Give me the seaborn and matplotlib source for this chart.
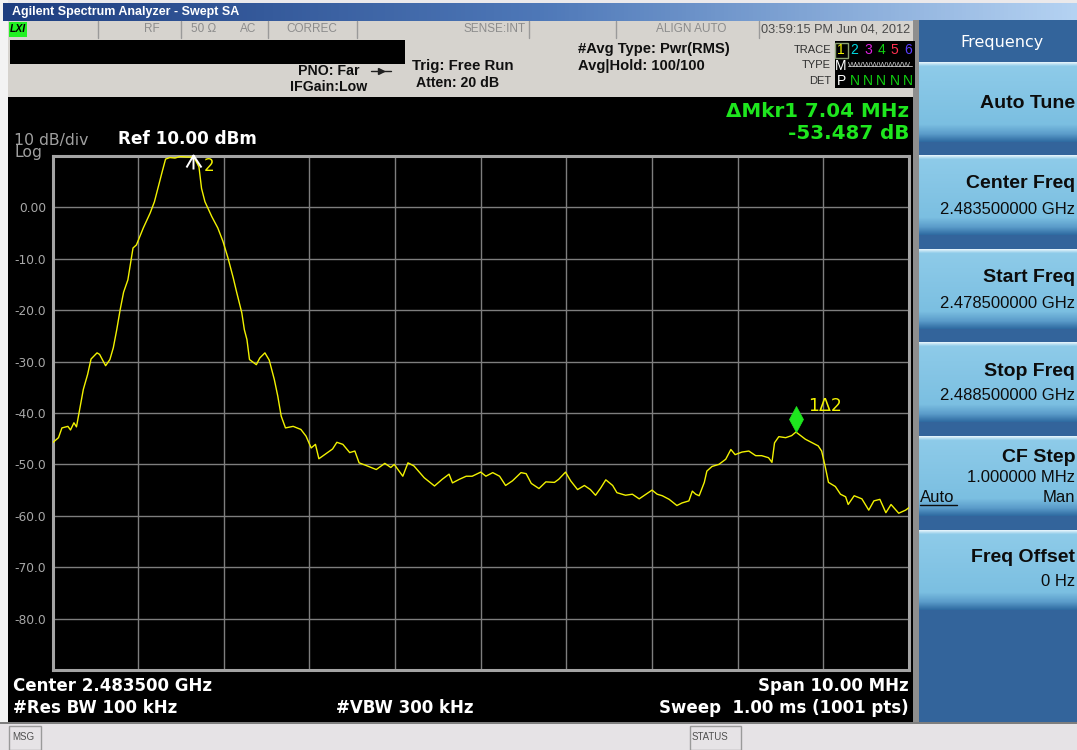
import numpy as np
import pandas as pd
import matplotlib
matplotlib.use("Agg")
import matplotlib.pyplot as plt
from matplotlib.patches import Rectangle
from matplotlib.path import Path
from matplotlib.colors import LinearSegmentedColormap
import seaborn as sns

# ---------------- data ----------------
freq_offset_mhz = [
    0.00, 0.07, 0.11, 0.18, 0.21, 0.25, 0.28, 0.32, 0.36, 0.41, 0.45, 0.52, 0.55, 0.62, 0.67,
    0.71, 0.75, 0.79, 0.83, 0.88, 0.94, 0.98, 1.06, 1.14, 1.19, 1.23, 1.28, 1.32, 1.37, 1.43,
    1.49, 1.56, 1.64, 1.66, 1.71, 1.74, 1.78, 1.86, 1.93, 1.99, 2.05, 2.11, 2.15, 2.21, 2.24,
    2.27, 2.30, 2.38, 2.42, 2.48, 2.53, 2.59, 2.63, 2.67, 2.72, 2.81, 2.90, 2.96, 3.02, 3.07,
    3.11, 3.21, 3.27, 3.32, 3.39, 3.47, 3.53, 3.58, 3.66, 3.78, 3.88, 3.95, 3.99, 4.09, 4.15,
    4.22, 4.34, 4.46, 4.55, 4.63, 4.67, 4.75, 4.83, 4.90, 5.00, 5.06, 5.14, 5.22, 5.29, 5.37,
    5.47, 5.53, 5.59, 5.68, 5.76, 5.86, 5.91, 5.99, 6.05, 6.13, 6.21, 6.28, 6.34, 6.40, 6.46,
    6.54, 6.59, 6.69, 6.77, 6.85, 6.93, 7.00, 7.06, 7.12, 7.20, 7.29, 7.35, 7.43, 7.47, 7.51,
    7.55, 7.61, 7.64, 7.70, 7.78, 7.86, 7.92, 7.97, 8.05, 8.13, 8.21, 8.28, 8.36, 8.40, 8.43,
    8.48, 8.56, 8.63, 8.68, 8.79, 8.87, 8.94, 8.98, 9.02, 9.06, 9.14, 9.20, 9.26, 9.29, 9.36,
    9.45, 9.53, 9.59, 9.66, 9.73, 9.79, 9.88, 9.96, 10.00,
]
level_dbm = [
    -45.8, -44.8, -42.9, -42.6, -43.3, -41.9, -42.7, -39.0, -35.4, -32.5, -29.5, -28.3, -28.6, -30.8, -29.6,
    -27.3, -23.8, -19.9, -16.5, -14.1, -7.9, -7.3, -4.0, -1.1, 1.1, 3.7, 6.9, 9.4, 9.7, 9.6,
    9.9, 9.8, 9.8, 9.5, 7.9, 3.7, 1.1, -1.8, -4.0, -6.6, -9.9, -13.7, -16.5, -20.5, -23.8,
    -25.7, -29.6, -30.6, -29.3, -28.3, -29.7, -33.5, -36.7, -40.6, -42.9, -42.6, -43.2, -44.5, -46.8, -46.1,
    -48.9, -47.7, -47.0, -45.7, -46.1, -47.7, -47.4, -49.7, -50.2, -51.0, -49.8, -50.6, -50.0, -52.3, -49.7,
    -50.3, -52.6, -54.2, -52.9, -51.9, -53.6, -52.9, -52.3, -52.3, -51.5, -52.3, -51.6, -52.3, -54.1, -53.2,
    -51.6, -51.8, -53.7, -54.7, -53.4, -53.5, -52.9, -51.5, -53.2, -54.9, -54.1, -54.9, -56.0, -54.6, -53.0,
    -54.1, -55.5, -56.0, -55.8, -56.7, -55.8, -55.0, -55.8, -56.1, -56.8, -58.0, -57.5, -57.1, -55.2, -55.8,
    -56.1, -53.5, -51.3, -50.4, -50.0, -49.0, -47.1, -48.1, -47.6, -47.4, -48.3, -48.3, -48.7, -49.6, -45.8,
    -44.6, -44.8, -44.4, -43.7, -45.1, -45.8, -46.4, -47.4, -50.3, -53.5, -54.3, -55.8, -56.3, -57.8, -56.1,
    -56.7, -58.9, -57.1, -56.8, -59.4, -57.8, -59.5, -58.9, -58.4,
]
span_mhz = 10.0
ref_level_dbm = 10.0
db_per_div = 10.0
marker_ids = ["1", "2"]
marker_freq_mhz = [8.68, 1.64]
marker_level_dbm = [-43.69, 9.80]
y_tick_values = [10, 0, -10, -20, -30, -40, -50, -60, -70, -80, -90]
y_tick_labels = ["", "0.00", "-10.0", "-20.0", "-30.0", "-40.0", "-50.0", "-60.0", "-70.0", "-80.0", ""]
x_div_values = [0, 1, 2, 3, 4, 5, 6, 7, 8, 9, 10]
softkey_titles = ["Auto Tune", "Center Freq", "Start Freq", "Stop Freq", "CF Step", "Freq Offset"]
softkey_values = ["", "2.483500000 GHz", "2.478500000 GHz", "2.488500000 GHz", "1.000000 MHz", "0 Hz"]
trace_numbers = ["1", "2", "3", "4", "5", "6"]
trace_number_colors = ["#f0f000", "#00d8e0", "#e020e0", "#10d010", "#ff3050", "#5a3cff"]

# ---------------- style ----------------
sns.set_theme(style="dark")
plt.rcParams["font.family"] = ["DejaVu Sans"]

W, H = 1077, 750
fig = plt.figure(figsize=(W / 100, H / 100), dpi=100, facecolor="#ebe9eb")
bg = fig.add_axes([0, 0, 1, 1], zorder=0)
bg.set_axis_off()

ARIAL = "Liberation Sans"
DV = "DejaVu Sans"


def rect(x0, y0, x1, y1, fc, ec="none", lw=0, z=1):
    bg.add_patch(Rectangle((x0, y0), x1 - x0, y1 - y0, facecolor=fc, edgecolor=ec, linewidth=lw, zorder=z))


def grad(x0, y0, x1, y1, stops, horizontal=False, z=1):
    cmap = LinearSegmentedColormap.from_list("g", stops)
    arr = np.linspace(0, 1, 256)
    arr = arr.reshape(1, -1) if horizontal else arr.reshape(-1, 1)
    bg.imshow(arr, cmap=cmap, extent=[x0, x1, y1, y0], aspect="auto", interpolation="bilinear", zorder=z)


def txt(x, y, s, size, color, weight="normal", ha="left", family=DV, z=5, **kw):
    bg.text(x, y, s, fontsize=size, color=color, fontweight=weight, ha=ha, va="center",
            family=family, zorder=z, **kw)


# outer frame strip
rect(0, 0, 8, H, "#f3f3f3")
# title bar
grad(3, 3, W, 21, ["#1e3e80", "#4e78b8", "#b4d2f2"], horizontal=True)
txt(12, 12.5, "Agilent Spectrum Analyzer - Swept SA", 9, "white", weight="bold", family=ARIAL)

# status row
rect(8, 21, 918, 38, "#d6d3ce")
for sx in [98, 181, 268, 357, 529, 616, 759]:
    bg.plot([sx, sx], [21, 38], color="#9a9a9a", lw=1, zorder=2)
rect(9, 22, 27, 37, "#22f022", z=2)
txt(10, 29.5, "LXI", 7.5, "black", weight="bold", family=ARIAL, style="italic")
txt(152, 29.5, "RF", 8.5, "#8c8c8c", ha="center", family=ARIAL)
txt(191, 29.5, "50 Ω", 8.5, "#8c8c8c", family=ARIAL)
txt(240, 29.5, "AC", 8.5, "#8c8c8c", family=ARIAL)
txt(286, 29.5, "CORREC", 8.5, "#8c8c8c", family=ARIAL)
txt(526, 29.5, "SENSE:INT", 8.5, "#8c8c8c", ha="right", family=ARIAL)
txt(691, 29.5, "ALIGN AUTO", 8.5, "#8c8c8c", ha="center", family=ARIAL)
txt(761, 29.5, "03:59:15 PM Jun 04, 2012", 9.2, "#4a4a4a", family=ARIAL)

# info panel
rect(8, 38, 918, 97, "#d6d3ce")
rect(10, 40, 405, 64, "black", z=2)
txt(360, 71, "PNO: Far", 10.2, "#101010", weight="bold", ha="right", family=ARIAL)
bg.plot([371, 391], [71, 71], color="#202020", lw=1, zorder=3)
bg.plot([381], [71], marker=">", color="#202020", markersize=4, zorder=3)
txt(290, 87, "IFGain:Low", 10.2, "#101010", weight="bold", family=ARIAL)
txt(412, 66, "Trig: Free Run", 10.8, "#101010", weight="bold", family=ARIAL)
txt(416, 83, "Atten: 20 dB", 10.2, "#101010", weight="bold", family=ARIAL)
txt(578, 49, "#Avg Type: Pwr(RMS)", 10.6, "#101010", weight="bold", family=ARIAL)
txt(578, 66, "Avg|Hold: 100/100", 10.6, "#101010", weight="bold", family=ARIAL)

# trace box
rect(835, 41, 915, 88, "black", z=2)
txt(831, 50, "TRACE", 8, "#303030", ha="right", family=ARIAL)
txt(831, 65.5, "TYPE", 8, "#303030", ha="right", family=ARIAL)
txt(831, 81, "DET", 8, "#303030", ha="right", family=ARIAL)
for i, (num, col) in enumerate(zip(trace_numbers, trace_number_colors)):
    cx = 841 + i * 13.4
    txt(cx, 50, num, 10, col, ha="center", family=ARIAL)
    if i == 0:
        txt(cx, 81, "P", 10, "white", ha="center", family=ARIAL)
        txt(cx, 65.5, "M", 10, "white", ha="center", family=ARIAL)
    else:
        txt(cx, 81, "N", 10, "#10d010", ha="center", family=ARIAL)
bg.add_patch(Rectangle((835, 42.5), 12.5, 15, facecolor="none", edgecolor="#8aa070", lw=1, zorder=4))
txt(848, 65.5, "WWWWWWWW", 6, "#c8c8c8", family=ARIAL)
bg.plot([848, 912], [66, 66], color="#c8c8c8", lw=0.6, zorder=5)

# screen
rect(8, 97, 913, 724, "black")
rect(913, 20, 919, 724, "#8e8e8e")

# right soft-key panel
rect(919, 20, W, 722, "#33649b")
txt(1002, 43, "Frequency", 11.5, "white", ha="center")
btn_tops = [62, 155, 249, 342, 436, 530]
btn_stops = [(0.0, "#eaf6fc"), (0.05, "#8ecbe9"), (0.78, "#7bbfe1"), (0.9, "#5b9cca"), (1.0, "#2e6aa0")]
for top in btn_tops:
    grad(919, top, W, top + 80, btn_stops, z=2)
txt(1075, 103, softkey_titles[0], 14, "#0c0c0c", weight="bold", ha="right", family=ARIAL)
for k in [1, 2, 3]:
    top = btn_tops[k]
    txt(1075, top + 29, softkey_titles[k], 14, "#0c0c0c", weight="bold", ha="right", family=ARIAL)
    txt(1075, top + 54, softkey_values[k], 12, "#0c0c0c", ha="right", family=ARIAL)
top = btn_tops[4]
txt(1075, top + 21, softkey_titles[4], 14, "#0c0c0c", weight="bold", ha="right", family=ARIAL)
txt(1075, top + 41, softkey_values[4], 12, "#0c0c0c", ha="right", family=ARIAL)
txt(920, top + 61, "Auto", 12, "#0c0c0c", family=ARIAL)
bg.plot([920, 957], [top + 68.5, top + 68.5], color="#0c0c0c", lw=1, zorder=6)
txt(1075, top + 61, "Man", 12, "#0c0c0c", ha="right", family=ARIAL)
top = btn_tops[5]
txt(1075, top + 27, softkey_titles[5], 14, "#0c0c0c", weight="bold", ha="right", family=ARIAL)
txt(1075, top + 52, softkey_values[5], 12, "#0c0c0c", ha="right", family=ARIAL)

# bottom bar
rect(0, 722, W, H, "#e6e3e6")
bg.plot([0, W], [722.5, 722.5], color="#6a6a6a", lw=1.2, zorder=3)
bg.add_patch(Rectangle((9, 726), 32, 24, facecolor="none", edgecolor="#9a9a9a", lw=1, zorder=3))
txt(12, 737, "MSG", 7, "#505050", family=ARIAL)
bg.add_patch(Rectangle((690, 726), 51, 24, facecolor="none", edgecolor="#9a9a9a", lw=1, zorder=3))
txt(692, 737, "STATUS", 7, "#505050", family=ARIAL)

# screen annotations
txt(14, 140, "10 dB/div", 11.3, "#a0a0a0")
txt(14, 153, "Log", 11.3, "#a0a0a0")
txt(118, 139.5, "Ref 10.00 dBm", 12.2, "white", weight="bold")
txt(909, 111.5, "ΔMkr1 7.04 MHz", 14.3, "#1ee61e", weight="bold", ha="right")
txt(909, 133.5, "-53.487 dB", 14.3, "#1ee61e", weight="bold", ha="right")
txt(13, 686, "Center 2.483500 GHz", 12, "white", weight="bold")
txt(13, 708, "#Res BW 100 kHz", 12, "white", weight="bold")
txt(336, 708, "#VBW 300 kHz", 12, "white", weight="bold")
txt(909, 686, "Span 10.00 MHz", 12, "white", weight="bold", ha="right")
txt(909, 708, "Sweep  1.00 ms (1001 pts)", 12, "white", weight="bold", ha="right")

bg.set_xlim(0, W)
bg.set_ylim(H, 0)

# ---------------- main graticule + trace ----------------
ax = fig.add_axes([52.5 / W, 1 - 670 / H, (909 - 52.5) / W, (670 - 156) / H], zorder=2)
df = pd.DataFrame({"freq": freq_offset_mhz, "level": level_dbm})
sns.lineplot(data=df, x="freq", y="level", ax=ax, color="#f2f200", linewidth=1.0,
             estimator=None, sort=False, zorder=4)
ax.set_facecolor("black")
ax.set_xlim(0, span_mhz)
ax.set_ylim(ref_level_dbm - 10 * db_per_div, ref_level_dbm)
ax.set_xticks(x_div_values)
ax.set_xticklabels([])
ax.set_yticks(y_tick_values)
ax.set_yticklabels(y_tick_labels)
ax.tick_params(axis="both", length=0, pad=4.5, labelsize=8.8, labelcolor="#a8a8a8")
ax.grid(True, color="#7e7e7e", linewidth=1.0)
ax.set_axisbelow(True)
for s in ax.spines.values():
    s.set_visible(True)
    s.set_color("#a4a4a4")
    s.set_linewidth(2.2)
ax.set_xlabel("")
ax.set_ylabel("")

# marker 2 : open caret with stem
caret = Path([(-7, -10), (0, 2), (8, -10), (0, 2), (0, -12)],
             [Path.MOVETO, Path.LINETO, Path.LINETO, Path.MOVETO, Path.LINETO])
ax.plot([marker_freq_mhz[1]], [marker_level_dbm[1]], marker=caret, markersize=2 * 12 * 0.72,
        markerfacecolor="none", markeredgecolor="white", markeredgewidth=1.4,
        linestyle="none", clip_on=False, zorder=6)
ax.annotate(marker_ids[1], xy=(marker_freq_mhz[1], marker_level_dbm[1]), xytext=(16, -9),
            textcoords="offset pixels", color="#f2f200", fontsize=12, ha="center", va="center",
            annotation_clip=False, zorder=6)

# marker 1 : filled diamond sitting on the trace
diamond = Path([(0, 0), (7, 13), (0, 26), (-7, 13), (0, 0)],
               [Path.MOVETO, Path.LINETO, Path.LINETO, Path.LINETO, Path.CLOSEPOLY])
ax.plot([marker_freq_mhz[0]], [marker_level_dbm[0]], marker=diamond, markersize=2 * 26 * 0.72,
        markerfacecolor="#1ee61e", markeredgecolor="#1ee61e", markeredgewidth=0.5,
        linestyle="none", clip_on=False, zorder=6)
ax.annotate(marker_ids[0] + "Δ" + marker_ids[1], xy=(marker_freq_mhz[0], marker_level_dbm[0]),
            xytext=(12, 26), textcoords="offset pixels", color="#f2f200", fontsize=12.5,
            ha="left", va="center", zorder=6)

fig.savefig("out.png", dpi=100, facecolor=fig.get_facecolor())
